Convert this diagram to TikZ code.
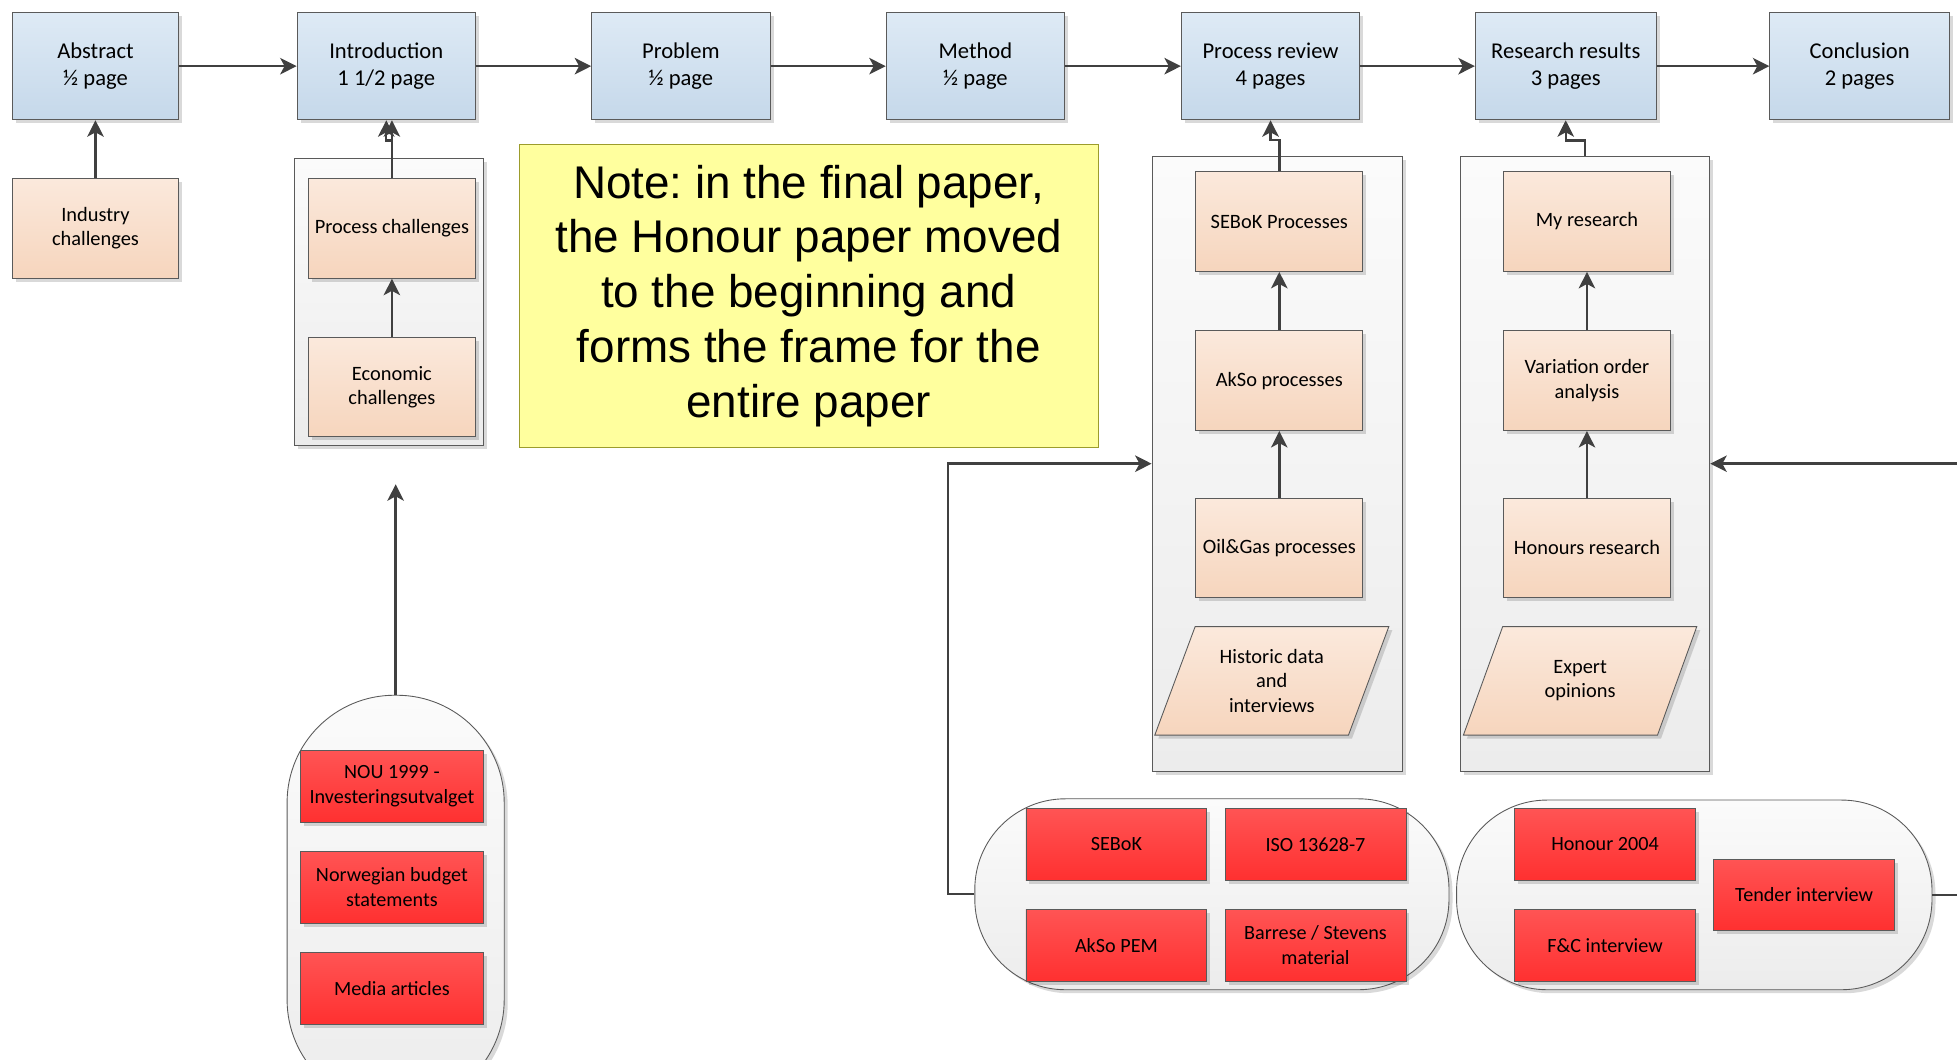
\documentclass[tikz,border=0pt]{standalone}
\usepackage{fontspec}
\setmainfont{Carlito}
\newfontfamily\notefont{Liberation Sans}
\frenchspacing
\usetikzlibrary{arrows.meta,shapes.geometric,shadows}

\definecolor{lineg}{HTML}{404040}
\definecolor{boxline}{HTML}{5A5A5A}
\definecolor{bluetop}{HTML}{DEEAF5}
\definecolor{bluebot}{HTML}{C5D8EA}
\definecolor{peachtop}{HTML}{FBE9DC}
\definecolor{peachbot}{HTML}{F6D5BD}
\definecolor{redtop}{HTML}{FF5454}
\definecolor{redbot}{HTML}{FF3030}
\definecolor{grptop}{HTML}{FBFBFB}
\definecolor{grpbot}{HTML}{ECECEC}
\definecolor{notefill}{HTML}{FFFF9E}
\definecolor{noteline}{HTML}{9C9C2C}

\begin{document}
\begin{tikzpicture}[x=0.02cm,y=-0.02cm,>={Stealth[length=7.5pt,width=7.5pt,inset=2pt]},
  conn/.style={->,draw=lineg,line width=1.1pt},
  shade/.style={drop shadow={shadow xshift=1.6pt,shadow yshift=-1.6pt,fill=black,opacity=0.15}},
  txt/.style={align=center,inner sep=1pt,font=\fontsize{9.3}{11.1}\selectfont},
  chapter/.style={rectangle,draw=boxline,top color=bluetop,bottom color=bluebot,
    minimum width=2.86cm,minimum height=1.72cm,shade,txt,font=\fontsize{10.3}{12.6}\selectfont},
  topic/.style={rectangle,draw=boxline,top color=peachtop,bottom color=peachbot,
    minimum width=2.68cm,minimum height=1.6cm,shade,txt},
  data/.style={trapezium,trapezium left angle=67,trapezium right angle=113,
    trapezium stretches=true,draw=boxline,top color=peachtop,bottom color=peachbot,
    minimum width=3.76cm,minimum height=1.74cm,shade,txt},
  source/.style={rectangle,draw=boxline,top color=redtop,bottom color=redbot,
    minimum width=2.9cm,minimum height=1.15cm,shade,txt,font=\fontsize{9.2}{11.3}\selectfont},
  group/.style={rectangle,draw=boxline,top color=grptop,bottom color=grpbot,shade},
  pill/.style={rectangle,draw=boxline,top color=grptop,bottom color=grpbot,shade}
  ]

  \useasboundingbox (0,0) rectangle (1568,849);

  % containers
  \node[group,minimum width=3.02cm,minimum height=4.6cm] (grpI) at (311.5,242) {};
  \node[group,minimum width=4.02cm,minimum height=9.86cm] (grpP) at (1023.5,371.5) {};
  \node[group,minimum width=4cm,minimum height=9.86cm] (grpR) at (1270,371.5) {};

  \node[pill,rounded corners=1.72cm,minimum width=3.48cm,minimum height=6.6cm] (srcI) at (317,722) {};
  \node[pill,rounded corners=1.45cm,minimum width=7.6cm,minimum height=3.06cm] (srcP) at (971,716.5) {};
  \node[pill,rounded corners=1.45cm,minimum width=7.62cm,minimum height=3.04cm] (srcR) at (1357.5,717) {};

  % chapters
  \node[chapter,minimum width=2.66cm] (abstract) at (76.5,53) {Abstract\\½ page};
  \node[chapter] (intro) at (309.5,53) {Introduction\\1 1/2 page};
  \node[chapter] (problem) at (545.5,53) {Problem\\½ page};
  \node[chapter] (method) at (781.5,53) {Method\\½ page};
  \node[chapter] (review) at (1018,53) {Process review\\4 pages};
  \node[chapter,minimum width=2.9cm] (results) at (1254.5,53) {Research results\\3 pages};
  \node[chapter,minimum width=2.88cm] (conclusion) at (1490,53) {Conclusion\\2 pages};

  % topics
  \node[topic,minimum width=2.66cm] (industry) at (76.5,183) {Industry\\challenges};
  \node[topic] (proc) at (314,183) {Process challenges};
  \node[topic] (econ) at (314,310) {Economic\\challenges};

  \node[topic] (sebokp) at (1025,177.5) {SEBoK Processes};
  \node[topic] (aksop) at (1025,305) {AkSo processes};
  \node[topic] (oilgas) at (1025,439) {Oil\&Gas processes};
  \node[data] (historic) at (1019,545.5) {Historic data\\and\\interviews};

  \node[topic] (myres) at (1271.5,177.5) {My research};
  \node[topic] (varord) at (1271.5,305) {Variation order\\analysis};
  \node[topic] (honres) at (1271.5,439) {Honours research};
  \node[data] (expert) at (1266,545.5) {Expert\\opinions};

  % note
  \node[rectangle,draw=noteline,fill=notefill,minimum width=9.28cm,minimum height=4.86cm,
        align=center,font=\notefont\fontsize{20.9}{25}\selectfont] (note) at (648,237)
        {Note: in the final paper,\\the Honour paper moved\\to the beginning and\\forms the frame for the\\entire paper};

  % sources
  \node[source,minimum width=2.92cm] (nou) at (314,630) {NOU 1999 -\\Investeringsutvalget};
  \node[source,minimum width=2.92cm] (budget) at (314,711) {Norwegian budget\\statements};
  \node[source,minimum width=2.92cm] (media) at (314,792) {Media articles};

  \node[source] (sebok) at (894.5,676.5) {SEBoK};
  \node[source] (iso) at (1054,676.5) {ISO 13628-7};
  \node[source] (aksopem) at (894.5,757.5) {AkSo PEM};
  \node[source] (barrese) at (1054,757.5) {Barrese / Stevens\\material};

  \node[source] (honour) at (1286,676.5) {Honour 2004};
  \node[source] (fc) at (1286,757.5) {F\&C interview};
  \node[source] (tender) at (1445.5,717) {Tender interview};

  \coordinate (introin) at (317,388);

  \path
  (abstract) edge[conn] (intro)
  (intro) edge[conn] (problem)
  (problem) edge[conn] (method)
  (method) edge[conn] (review)
  (review) edge[conn] (results)
  (results) edge[conn] (conclusion)
  (industry) edge[conn] (abstract)
  (econ) edge[conn] (proc)
  (oilgas) edge[conn] (aksop)
  (aksop) edge[conn] (sebokp)
  (honres) edge[conn] (varord)
  (varord) edge[conn] (myres)
  (srcI.north) edge[conn] (introin);

  \draw[conn] (proc.north) -- (proc.north |- intro.south);
  \draw[conn] (proc.north) -- ++(0,-30) -| (intro.south);
  \draw[conn] (sebokp.north) -- ++(0,-25) -| (review.south);
  \draw[conn] (grpR.north) -- ++(0,-12) -| (results.south);
  \draw[conn] (srcP.west) -- ++(-21,0) |- (grpP.west);
  \draw[conn] (srcR.east) -- ++(40,0) |- (grpR.east);

\end{tikzpicture}
\end{document}
